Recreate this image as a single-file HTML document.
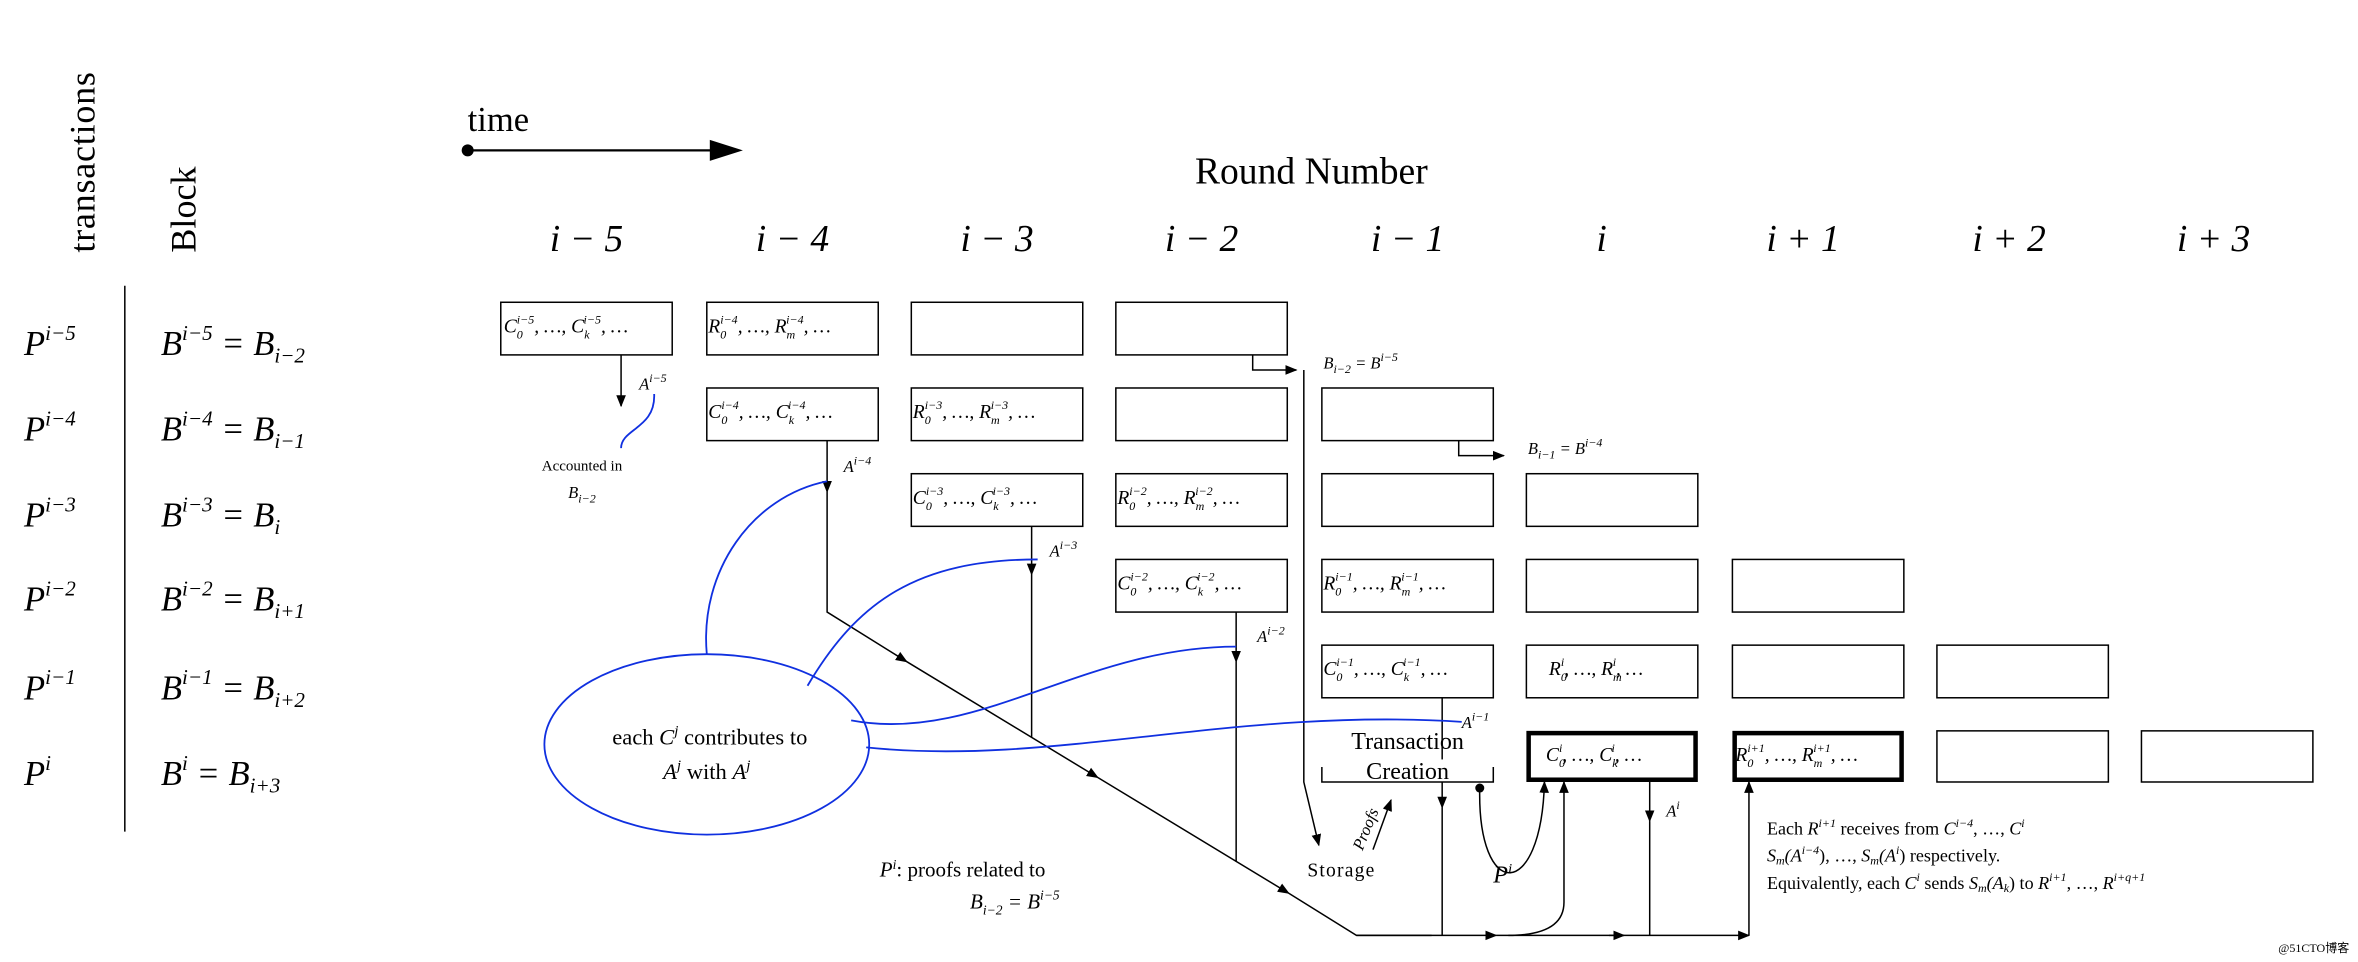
<!DOCTYPE html>
<html><head><meta charset="utf-8"><style>
html,body{margin:0;padding:0;background:#fff}
svg{display:block}
text{font-family:"Liberation Serif",serif;fill:#000}
.m{font-style:italic}
</style></head><body>
<svg width="2358" height="962" viewBox="0 0 1568 639.7" preserveAspectRatio="none" xmlns="http://www.w3.org/2000/svg">
<defs>
<marker id="ar" viewBox="0 0 10 10" refX="9" refY="5" markerWidth="8" markerHeight="8" orient="auto" markerUnits="userSpaceOnUse"><path d="M0,1 L10,5 L0,9 z" fill="#000"/></marker>
</defs>
<!-- left -->
<text transform="translate(63,168) rotate(-90)" font-size="24" letter-spacing="0.5">transactions</text>
<text transform="translate(130,168) rotate(-90)" font-size="24">Block</text>
<line x1="83" y1="190" x2="83" y2="553" stroke="#000" stroke-width="1"/>
<g font-size="23" class="m">
<text x="16" y="236" class="m">P<tspan dy="-10" font-size="14">i−5</tspan></text>
<text x="16" y="293" class="m">P<tspan dy="-10" font-size="14">i−4</tspan></text>
<text x="16" y="350" class="m">P<tspan dy="-10" font-size="14">i−3</tspan></text>
<text x="16" y="406" class="m">P<tspan dy="-10" font-size="14">i−2</tspan></text>
<text x="16" y="465" class="m">P<tspan dy="-10" font-size="14">i−1</tspan></text>
<text x="16" y="522" class="m">P<tspan dy="-10" font-size="14">i</tspan></text>
<text x="107" y="236" class="m">B<tspan dy="-10" font-size="14">i−5</tspan><tspan dy="10"> = B</tspan><tspan dy="5" font-size="14">i−2</tspan></text>
<text x="107" y="293" class="m">B<tspan dy="-10" font-size="14">i−4</tspan><tspan dy="10"> = B</tspan><tspan dy="5" font-size="14">i−1</tspan></text>
<text x="107" y="350" class="m">B<tspan dy="-10" font-size="14">i−3</tspan><tspan dy="10"> = B</tspan><tspan dy="5" font-size="14">i</tspan></text>
<text x="107" y="406" class="m">B<tspan dy="-10" font-size="14">i−2</tspan><tspan dy="10"> = B</tspan><tspan dy="5" font-size="14">i+1</tspan></text>
<text x="107" y="465" class="m">B<tspan dy="-10" font-size="14">i−1</tspan><tspan dy="10"> = B</tspan><tspan dy="5" font-size="14">i+2</tspan></text>
<text x="107" y="522" class="m">B<tspan dy="-10" font-size="14">i</tspan><tspan dy="10"> = B</tspan><tspan dy="5" font-size="14">i+3</tspan></text>
</g>
<!-- time -->
<text x="311" y="87" font-size="23">time</text>
<circle cx="311" cy="100" r="4" fill="#000"/>
<line x1="311" y1="100" x2="474" y2="100" stroke="#000" stroke-width="1.5"/>
<path d="M472,93 L494,100 L472,107 z" fill="#000"/>
<text x="872" y="122" font-size="25" text-anchor="middle">Round Number</text>
<g font-size="25" text-anchor="middle" class="m">
<text x="390" y="167" class="m">i − 5</text>
<text x="527" y="167" class="m">i − 4</text>
<text x="663" y="167" class="m">i − 3</text>
<text x="799" y="167" class="m">i − 2</text>
<text x="936" y="167" class="m">i − 1</text>
<text x="1065" y="167" class="m">i</text>
<text x="1199" y="167" class="m">i + 1</text>
<text x="1336" y="167" class="m">i + 2</text>
<text x="1472" y="167" class="m">i + 3</text>
</g>
<!-- boxes -->
<g fill="none" stroke="#000" stroke-width="1">
<rect x="333" y="201" width="114" height="35"/><rect x="470" y="201" width="114" height="35"/><rect x="606" y="201" width="114" height="35"/><rect x="742" y="201" width="114" height="35"/>
<rect x="470" y="258" width="114" height="35"/><rect x="606" y="258" width="114" height="35"/><rect x="742" y="258" width="114" height="35"/><rect x="879" y="258" width="114" height="35"/>
<rect x="606" y="315" width="114" height="35"/><rect x="742" y="315" width="114" height="35"/><rect x="879" y="315" width="114" height="35"/><rect x="1015" y="315" width="114" height="35"/>
<rect x="742" y="372" width="114" height="35"/><rect x="879" y="372" width="114" height="35"/><rect x="1015" y="372" width="114" height="35"/><rect x="1152" y="372" width="114" height="35"/>
<rect x="879" y="429" width="114" height="35"/><rect x="1015" y="429" width="114" height="35"/><rect x="1152" y="429" width="114" height="35"/><rect x="1288" y="429" width="114" height="35"/>
<rect x="1288" y="486" width="114" height="34"/><rect x="1424" y="486" width="114" height="34"/>
<rect x="1016.5" y="487.5" width="111" height="31" stroke-width="3"/><rect x="1153.5" y="487.5" width="111" height="31" stroke-width="3"/>
<path d="M879,510 V520 H993 V510"/>
</g>
<g font-size="13" class="m">
<text x="335" y="221" class="m">C<tspan dy="4" font-size="8">0</tspan><tspan dx="-4" dy="-10" font-size="8">i−5</tspan><tspan dy="6">, …, C</tspan><tspan dy="4" font-size="8">k</tspan><tspan dx="-4" dy="-10" font-size="8">i−5</tspan><tspan dy="6">, …</tspan></text>
<text x="471" y="221" class="m">R<tspan dy="4" font-size="8">0</tspan><tspan dx="-4" dy="-10" font-size="8">i−4</tspan><tspan dy="6">, …, R</tspan><tspan dy="4" font-size="8">m</tspan><tspan dx="-6" dy="-10" font-size="8">i−4</tspan><tspan dy="6">, …</tspan></text>
<text x="471" y="278" class="m">C<tspan dy="4" font-size="8">0</tspan><tspan dx="-4" dy="-10" font-size="8">i−4</tspan><tspan dy="6">, …, C</tspan><tspan dy="4" font-size="8">k</tspan><tspan dx="-4" dy="-10" font-size="8">i−4</tspan><tspan dy="6">, …</tspan></text>
<text x="607" y="278" class="m">R<tspan dy="4" font-size="8">0</tspan><tspan dx="-4" dy="-10" font-size="8">i−3</tspan><tspan dy="6">, …, R</tspan><tspan dy="4" font-size="8">m</tspan><tspan dx="-6" dy="-10" font-size="8">i−3</tspan><tspan dy="6">, …</tspan></text>
<text x="607" y="335" class="m">C<tspan dy="4" font-size="8">0</tspan><tspan dx="-4" dy="-10" font-size="8">i−3</tspan><tspan dy="6">, …, C</tspan><tspan dy="4" font-size="8">k</tspan><tspan dx="-4" dy="-10" font-size="8">i−3</tspan><tspan dy="6">, …</tspan></text>
<text x="743" y="335" class="m">R<tspan dy="4" font-size="8">0</tspan><tspan dx="-4" dy="-10" font-size="8">i−2</tspan><tspan dy="6">, …, R</tspan><tspan dy="4" font-size="8">m</tspan><tspan dx="-6" dy="-10" font-size="8">i−2</tspan><tspan dy="6">, …</tspan></text>
<text x="743" y="392" class="m">C<tspan dy="4" font-size="8">0</tspan><tspan dx="-4" dy="-10" font-size="8">i−2</tspan><tspan dy="6">, …, C</tspan><tspan dy="4" font-size="8">k</tspan><tspan dx="-4" dy="-10" font-size="8">i−2</tspan><tspan dy="6">, …</tspan></text>
<text x="880" y="392" class="m">R<tspan dy="4" font-size="8">0</tspan><tspan dx="-4" dy="-10" font-size="8">i−1</tspan><tspan dy="6">, …, R</tspan><tspan dy="4" font-size="8">m</tspan><tspan dx="-6" dy="-10" font-size="8">i−1</tspan><tspan dy="6">, …</tspan></text>
<text x="880" y="449" class="m">C<tspan dy="4" font-size="8">0</tspan><tspan dx="-4" dy="-10" font-size="8">i−1</tspan><tspan dy="6">, …, C</tspan><tspan dy="4" font-size="8">k</tspan><tspan dx="-4" dy="-10" font-size="8">i−1</tspan><tspan dy="6">, …</tspan></text>
<text x="1030" y="449" class="m">R<tspan dy="4" font-size="8">0</tspan><tspan dx="-4" dy="-10" font-size="8">i</tspan><tspan dy="6">, …, R</tspan><tspan dy="4" font-size="8">m</tspan><tspan dx="-6" dy="-10" font-size="8">i</tspan><tspan dy="6">, …</tspan></text>
<text x="1028" y="506" class="m">C<tspan dy="4" font-size="8">0</tspan><tspan dx="-4" dy="-10" font-size="8">i</tspan><tspan dy="6">, …, C</tspan><tspan dy="4" font-size="8">k</tspan><tspan dx="-4" dy="-10" font-size="8">i</tspan><tspan dy="6">, …</tspan></text>
<text x="1154" y="506" class="m">R<tspan dy="4" font-size="8">0</tspan><tspan dx="-4" dy="-10" font-size="8">i+1</tspan><tspan dy="6">, …, R</tspan><tspan dy="4" font-size="8">m</tspan><tspan dx="-6" dy="-10" font-size="8">i+1</tspan><tspan dy="6">, …</tspan></text>
</g>
<text x="936" y="498" font-size="16" text-anchor="middle">Transaction</text>
<text x="936" y="518" font-size="16" text-anchor="middle">Creation</text>
<!-- black connectors -->
<g fill="none" stroke="#000" stroke-width="1">
<path d="M833,236 V246 H862" marker-end="url(#ar)"/>
<path d="M970,293 V303 H1000" marker-end="url(#ar)"/>
<path d="M867,246 V520 L877,562" marker-end="url(#ar)"/>
<path d="M413,236 V270" marker-end="url(#ar)"/>
<path d="M550,293 V327" marker-end="url(#ar)"/>
<path d="M550,327 V407 L603,440" marker-end="url(#ar)"/>
<path d="M603,440 L730,517" marker-end="url(#ar)"/>
<path d="M730,517 L857,594" marker-end="url(#ar)"/>
<path d="M857,594 L902,622 H952"/>
<path d="M686,350 V382" marker-end="url(#ar)"/>
<path d="M686,382 V490"/>
<path d="M822,407 V440" marker-end="url(#ar)"/>
<path d="M822,440 V573"/>
<path d="M959,464 V505"/>
<path d="M959,520 V537" marker-end="url(#ar)"/>
<path d="M959,537 V622"/>
<path d="M902,622 H995" marker-end="url(#ar)"/>
<path d="M995,622 H1080" marker-end="url(#ar)"/>
<path d="M1070,622 H1163" marker-end="url(#ar)"/>
<path d="M1097,520 V546" marker-end="url(#ar)"/>
<path d="M1097,546 V622"/>
<path d="M1163,622 V520" marker-end="url(#ar)"/>
<path d="M1003,622 Q1040,622 1040,600 V520" marker-end="url(#ar)"/>
<path d="M984,523 C982,600 1025,600 1027,520" marker-end="url(#ar)"/>
<path d="M913,565 L925,532" marker-end="url(#ar)"/>
</g>
<circle cx="984" cy="524" r="3" fill="#000"/>
<!-- labels -->
<g font-size="11" class="m">
<text x="880" y="245" class="m">B<tspan dy="3" font-size="8">i−2</tspan><tspan dy="-3"> = B</tspan><tspan dy="-5" font-size="8">i−5</tspan></text>
<text x="1016" y="302" class="m">B<tspan dy="3" font-size="8">i−1</tspan><tspan dy="-3"> = B</tspan><tspan dy="-5" font-size="8">i−4</tspan></text>
<text x="425" y="259" class="m">A<tspan dy="-5" font-size="8">i−5</tspan></text>
<text x="561" y="314" class="m">A<tspan dy="-5" font-size="8">i−4</tspan></text>
<text x="698" y="370" class="m">A<tspan dy="-5" font-size="8">i−3</tspan></text>
<text x="836" y="427" class="m">A<tspan dy="-5" font-size="8">i−2</tspan></text>
<text x="972" y="484" class="m">A<tspan dy="-5" font-size="8">i−1</tspan></text>
<text x="1108" y="543" class="m">A<tspan dy="-5" font-size="8">i</tspan></text>
</g>
<text x="387" y="313" font-size="10" text-anchor="middle">Accounted in</text>
<text x="387" y="331" font-size="11" text-anchor="middle" class="m">B<tspan dy="3" font-size="8">i−2</tspan></text>
<text x="892" y="583" font-size="13" text-anchor="middle" letter-spacing="0.8">Storage</text>
<text transform="translate(906,566) rotate(-68)" font-size="11" class="m">Proofs</text>
<text x="993" y="587" font-size="16" class="m">P<tspan dy="-6" font-size="10">i</tspan></text>
<text x="585" y="583" font-size="14" class="m">P<tspan dy="-5" font-size="9">i</tspan><tspan dy="5" font-style="normal">:    proofs related to</tspan></text>
<text x="645" y="604" font-size="14" class="m">B<tspan dy="4" font-size="9">i−2</tspan><tspan dy="-4"> = B</tspan><tspan dy="-6" font-size="9">i−5</tspan></text>
<g font-size="12">
<text x="1175" y="555">Each <tspan font-style="italic">R<tspan dy="-5" font-size="8">i+1</tspan></tspan><tspan dy="5"> receives from </tspan><tspan font-style="italic">C<tspan dy="-5" font-size="8">i−4</tspan></tspan><tspan dy="5">, …, </tspan><tspan font-style="italic">C<tspan dy="-5" font-size="8">i</tspan></tspan></text>
<text x="1175" y="573"><tspan font-style="italic">S<tspan dy="2" font-size="8">m</tspan><tspan dy="-2">(A</tspan><tspan dy="-5" font-size="8">i−4</tspan></tspan><tspan dy="5">), …, </tspan><tspan font-style="italic">S<tspan dy="2" font-size="8">m</tspan><tspan dy="-2">(A</tspan><tspan dy="-5" font-size="8">i</tspan></tspan><tspan dy="5">) respectively.</tspan></text>
<text x="1175" y="591">Equivalently, each <tspan font-style="italic">C<tspan dy="-5" font-size="8">i</tspan></tspan><tspan dy="5"> sends </tspan><tspan font-style="italic">S<tspan dy="2" font-size="8">m</tspan><tspan dy="-2">(A</tspan><tspan dy="2" font-size="8">k</tspan></tspan><tspan dy="-2">) to </tspan><tspan font-style="italic">R<tspan dy="-5" font-size="8">i+1</tspan></tspan><tspan dy="5">, …, </tspan><tspan font-style="italic">R<tspan dy="-5" font-size="8">i+q+1</tspan></tspan></text>
</g>
<!-- blue -->
<g fill="none" stroke="#1030e0" stroke-width="1.2">
<ellipse cx="470" cy="495" rx="108" ry="60"/>
<path d="M435,262 C436,285 413,285 413,298"/>
<path d="M470,435 C465,380 500,330 550,320"/>
<path d="M537,456 C570,400 610,372 690,372"/>
<path d="M566,479 C650,495 720,430 822,430"/>
<path d="M576,497 C700,510 820,470 972,480"/>
</g>
<text x="472" y="495" font-size="15" text-anchor="middle">each <tspan font-style="italic">C<tspan dy="-6" font-size="10">j</tspan></tspan><tspan dy="6"> contributes to</tspan></text>
<text x="470" y="518" font-size="15" text-anchor="middle"><tspan font-style="italic">A<tspan dy="-6" font-size="10">j</tspan></tspan><tspan dy="6"> with </tspan><tspan font-style="italic">A<tspan dy="-6" font-size="10">j</tspan></tspan></text>
<text x="1515" y="633" font-size="8" fill="#ccc">@51CTO博客</text>
</svg>
</body></html>
